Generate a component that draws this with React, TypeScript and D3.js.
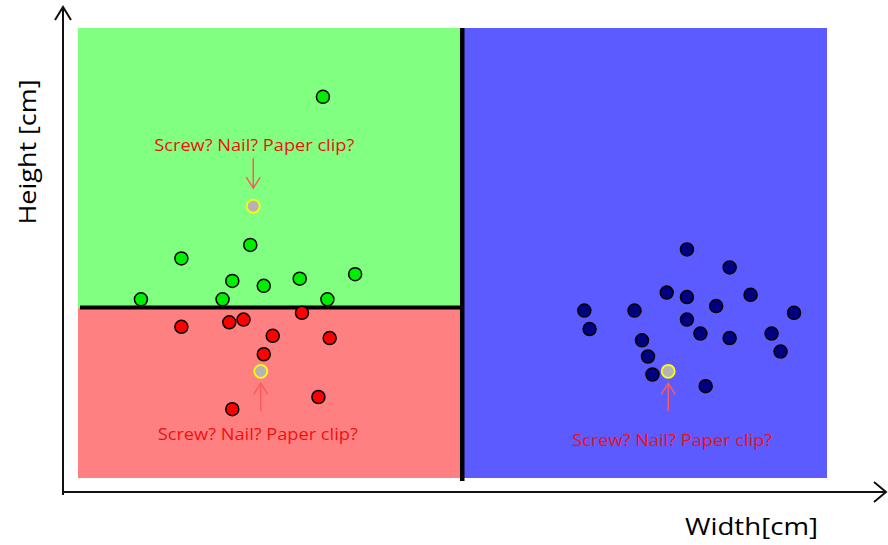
import * as d3 from "d3";

// scatter points, [width, height] in cm
const greenPoints: [number, number][] = [
  [0.84, 3.97], [1.38, 4.88], [2.30, 5.18], [2.06, 4.38], [1.93, 3.97],
  [2.48, 4.27], [2.96, 4.43], [3.33, 3.97], [3.70, 4.53], [3.27, 8.47],
];
const redPoints: [number, number][] = [
  [1.38, 3.36], [2.02, 3.46], [2.21, 3.52], [2.99, 3.67], [2.60, 3.16],
  [3.36, 3.11], [2.48, 2.75], [3.21, 1.80], [2.06, 1.53],
];
const bluePoints: [number, number][] = [
  [6.76, 3.72], [6.83, 3.31], [7.43, 3.72], [7.53, 3.06], [7.61, 2.70],
  [7.67, 2.30], [7.86, 4.12], [8.13, 5.08], [8.13, 4.02], [8.13, 3.52],
  [8.31, 3.21], [8.38, 2.04], [8.52, 3.82], [8.70, 4.68], [8.70, 3.11],
  [8.98, 4.07], [9.26, 3.21], [9.38, 2.81], [9.56, 3.67],
];
// unknown objects and where their annotation sits (above / below)
const queryPoints: [number, number][] = [[2.34, 6.04], [2.44, 2.37], [7.88, 2.37]];
const queryPlacement = ["above", "below", "below"];
const queryLabel = "Screw? Nail? Paper clip?";

// decision boundaries
const splitX = 5.13;
const splitY = 3.79;

const W = 888;
const H = 545;

const x = d3.scaleLinear().domain([0, 10]).range([78, 827]);
const y = d3.scaleLinear().domain([0, 10]).range([478, 28]);

const font = "'Open Sans', 'Noto Sans', sans-serif";

const Dots = ({ pts, fill }: { pts: [number, number][]; fill: string }) => (
  <g>
    {pts.map((d, i) => (
      <circle key={i} cx={x(d[0])} cy={y(d[1])} r={6.5} fill={fill} stroke="#000" strokeWidth={1.5} />
    ))}
  </g>
);

export default function App() {
  const ax0 = 63;
  const ay0 = 492;
  return (
    <svg width={W} height={H} style={{ position: "absolute", left: 0, top: 0, background: "#fff" }}>
      {/* regions */}
      <rect x={x(0)} y={y(10)} width={x(splitX) - x(0)} height={y(splitY) - y(10)} fill="#80ff80" />
      <rect x={x(0)} y={y(splitY)} width={x(splitX) - x(0)} height={y(0) - y(splitY)} fill="#ff8080" />
      <rect x={x(splitX)} y={y(10)} width={x(10) - x(splitX)} height={y(0) - y(10)} fill="#5b5bff" />

      {/* boundaries */}
      <line x1={x(splitX)} x2={x(splitX)} y1={y(10)} y2={y(0) + 3} stroke="#000" strokeWidth={4.5} />
      <line x1={x(0) + 2} x2={x(splitX)} y1={y(splitY)} y2={y(splitY)} stroke="#000" strokeWidth={4} />

      {/* axes */}
      <g stroke="#111" strokeWidth={2} fill="none">
        <line x1={ax0} x2={ax0} y1={495} y2={7} />
        <polyline points={`${ax0 - 8},20 ${ax0},7 ${ax0 + 8},20`} />
        <line x1={ax0} x2={886} y1={ay0} y2={ay0} />
        <polyline points={`874,${ay0 - 10} 886,${ay0} 874,${ay0 + 10}`} />
      </g>
      <text
        transform="translate(36,152) rotate(-90)"
        textAnchor="middle"
        fontFamily={font}
        fontSize={23}
        fill="#000"
        textLength={145}
        lengthAdjust="spacingAndGlyphs"
      >
        Height [cm]
      </text>
      <text x={685} y={535} fontFamily={font} fontSize={23} fill="#000" textLength={133} lengthAdjust="spacingAndGlyphs">
        Width[cm]
      </text>

      <Dots pts={greenPoints} fill="#00ee00" />
      <Dots pts={redPoints} fill="#ff0000" />
      <Dots pts={bluePoints} fill="#000080" />

      {/* unknown objects with annotations */}
      {queryPoints.map((d, i) => {
        const cx = x(d[0]);
        const cy = y(d[1]);
        const above = queryPlacement[i] === "above";
        const a1 = above ? cy - 48 : cy + 40;
        const a2 = above ? cy - 18 : cy + 12;
        const dir = above ? -1 : 1;
        const ty = above ? cy - 55 : cy + (i === 1 ? 69 : 75);
        return (
          <g key={i}>
            <line x1={cx} x2={cx} y1={a1} y2={a2} stroke="#ff5a5a" strokeWidth={1.5} />
            <polyline
              points={`${cx - 7},${a2 + dir * 11} ${cx},${a2} ${cx + 7},${a2 + dir * 11}`}
              fill="none"
              stroke="#ff5a5a"
              strokeWidth={1.5}
            />
            <circle cx={cx} cy={cy} r={6.5} fill="#b4b4b4" stroke="#ffff00" strokeWidth={1.8} />
            <text
              x={cx + (i === 0 ? 1 : i === 1 ? -3 : 4)}
              y={ty}
              textAnchor="middle"
              fontFamily={font}
              fontSize={16}
              fill="#f01010"
              textLength={200}
              lengthAdjust="spacingAndGlyphs"
            >
              {queryLabel}
            </text>
          </g>
        );
      })}
    </svg>
  );
}
